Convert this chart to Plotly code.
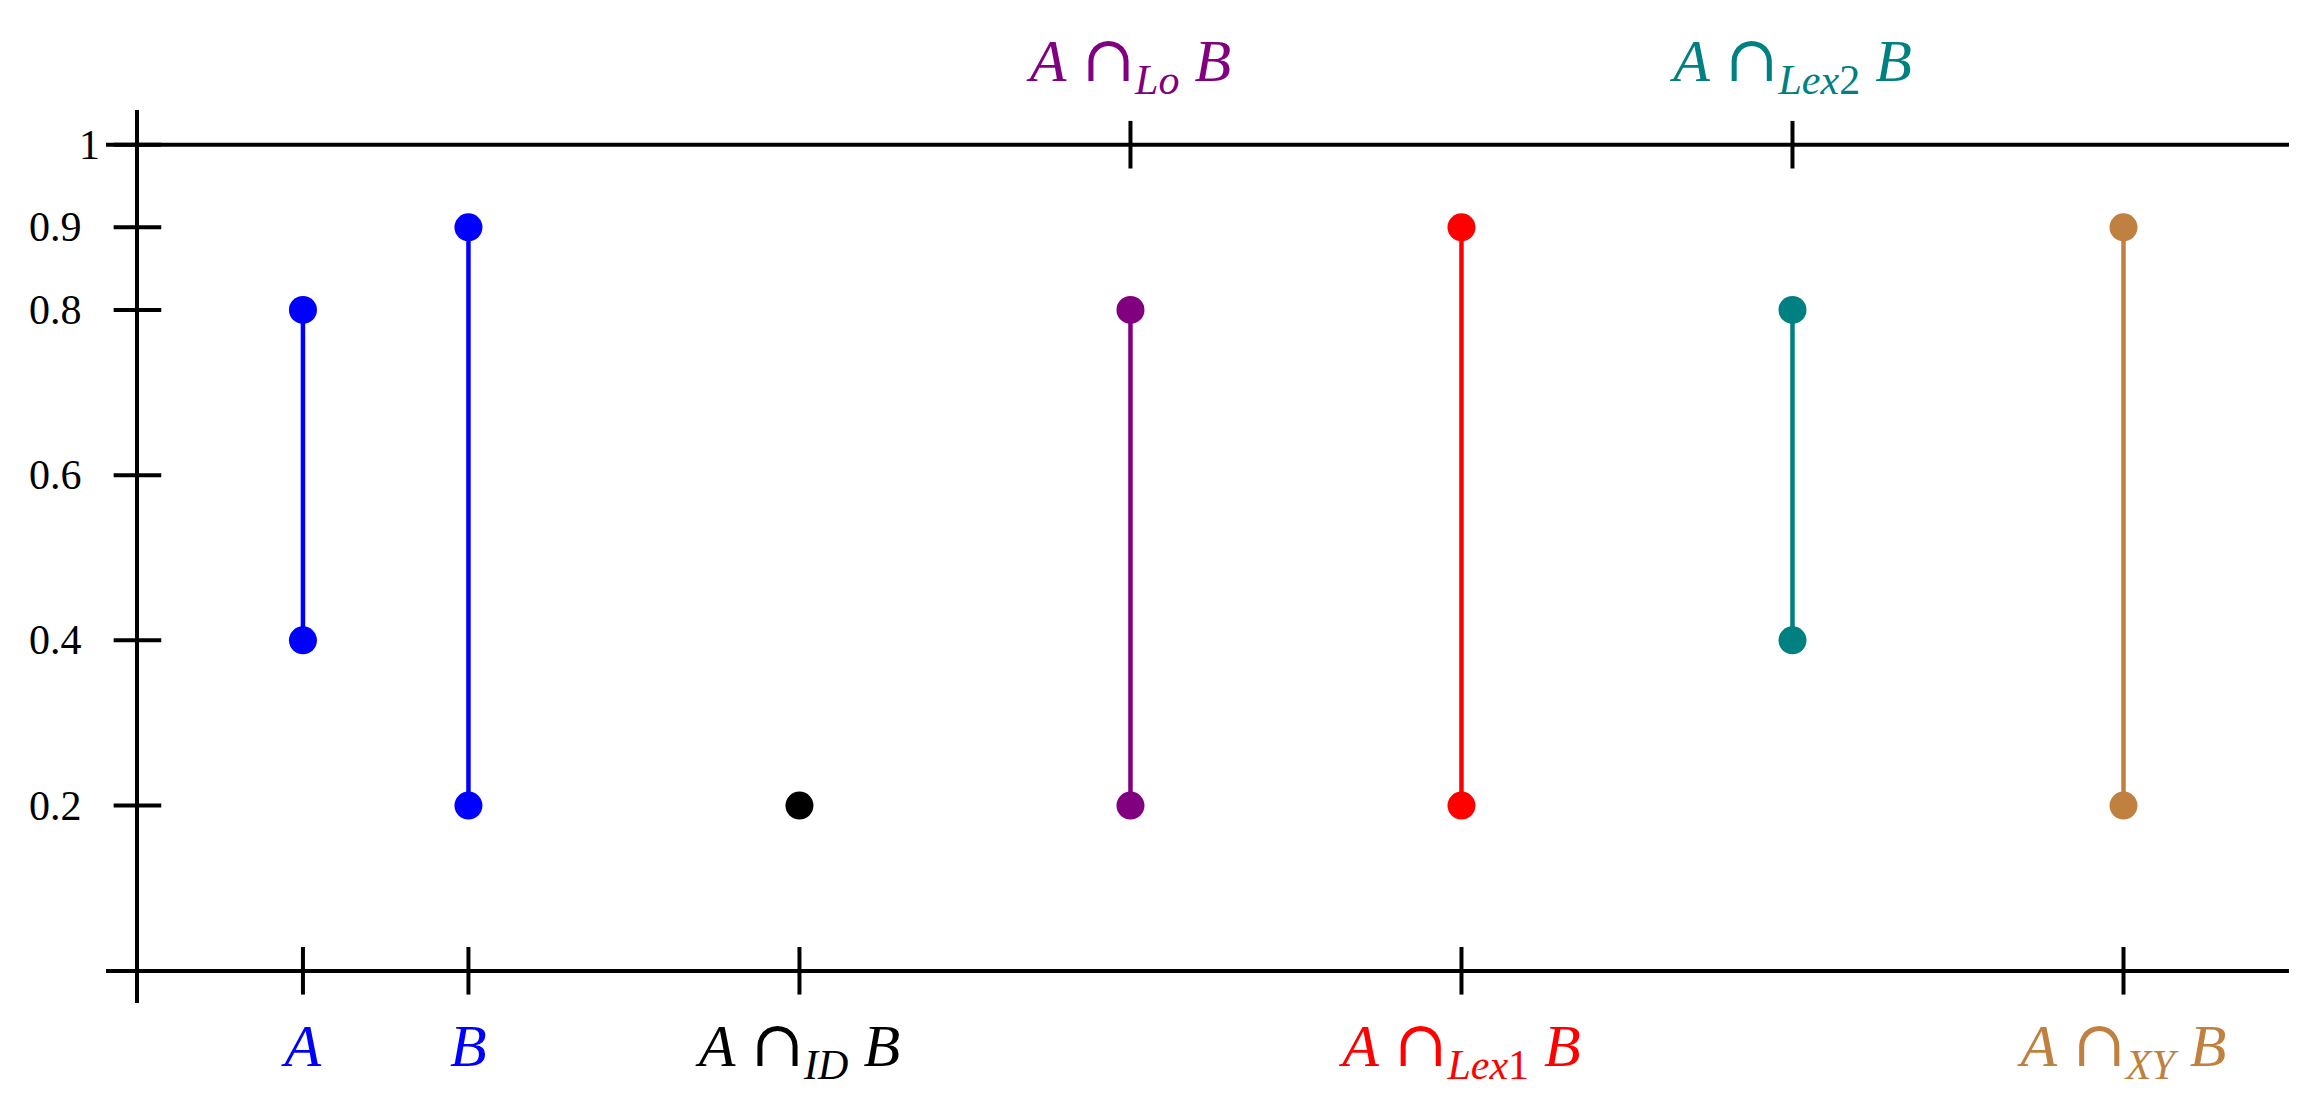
import plotly.graph_objects as go

# ---- data ----
names = ["A", "B", "ID", "Lo", "Lex1", "Lex2", "XY"]
x_pos = [1, 2, 4, 6, 8, 10, 12]
lower = [0.4, 0.2, 0.2, 0.2, 0.2, 0.4, 0.2]
upper = [0.8, 0.9, 0.2, 0.8, 0.9, 0.8, 0.9]
colors = ["#0000FF", "#0000FF", "#000000", "#800080", "#FF0000", "#008080", "#BF8040"]
CAP = "<span style='font-family:DejaVu Serif;font-size:64px'>∩</span>"
labels = [
    "<i>A</i>",
    "<i>B</i>",
    f"<i>A</i> {CAP}<sub><i>ID</i></sub> <i>B</i>",
    f"<i>A</i> {CAP}<sub><i>Lo</i></sub> <i>B</i>",
    f"<i>A</i> {CAP}<sub><i>Lex</i>1</sub> <i>B</i>",
    f"<i>A</i> {CAP}<sub><i>Lex</i>2</sub> <i>B</i>",
    f"<i>A</i> {CAP}<sub><i>XY</i></sub> <i>B</i>",
]
top_names = ["Lo", "Lex2"]
y_ticks = [0.2, 0.4, 0.6, 0.8, 0.9, 1.0]
y_tick_text = ["0.2", "0.4", "0.6", "0.8", "0.9", "1"]

FONT = "Liberation Serif"
fig = go.Figure()

for xp, lo, hi, c in zip(x_pos, lower, upper, colors):
    fig.add_trace(go.Scatter(
        x=[xp, xp] if hi != lo else [xp], y=[lo, hi] if hi != lo else [lo],
        mode="lines+markers",
        line=dict(color=c, width=4.5),
        marker=dict(color=c, size=28),
        showlegend=False, hoverinfo="skip",
    ))

bottom_idx = [i for i, n in enumerate(names) if n not in top_names]
top_idx = [i for i, n in enumerate(names) if n in top_names]

# tick marks crossing the axes
fig.add_trace(go.Scatter(
    x=[x_pos[i] for i in bottom_idx], y=[0] * len(bottom_idx), mode="markers",
    marker=dict(symbol="line-ns", size=34, line=dict(color="black", width=4)),
    showlegend=False, hoverinfo="skip", cliponaxis=False))
fig.add_trace(go.Scatter(
    x=[x_pos[i] for i in top_idx], y=[1] * len(top_idx), mode="markers",
    marker=dict(symbol="line-ns", size=34, line=dict(color="black", width=4)),
    showlegend=False, hoverinfo="skip", cliponaxis=False, xaxis="x2"))
fig.add_trace(go.Scatter(
    x=[0] * len(y_ticks), y=y_ticks, mode="markers",
    marker=dict(symbol="line-ew", size=34, line=dict(color="black", width=4)),
    showlegend=False, hoverinfo="skip", cliponaxis=False))

def colored(i):
    return f"<span style='color:{colors[i]}'>{labels[i]}</span>"

xr = [-0.19, 13.0]
fig.update_layout(
    width=2312, height=1110,
    margin=dict(l=98, r=31, t=102, b=115),
    paper_bgcolor="white", plot_bgcolor="white",
    xaxis=dict(range=xr, showgrid=False, zeroline=True, zerolinecolor="black",
               zerolinewidth=4, showline=False, ticks="",
               tickvals=[x_pos[i] for i in bottom_idx],
               ticktext=[colored(i) for i in bottom_idx],
               tickfont=dict(family=FONT, size=60, color="black"),
               ticklabelstandoff=2),
    xaxis2=dict(range=xr, overlaying="x", side="top", showgrid=False,
                zeroline=False, showline=False, ticks="",
                tickvals=[x_pos[i] for i in top_idx],
                ticktext=[colored(i) for i in top_idx],
                tickfont=dict(family=FONT, size=60, color="black"),
                ticklabelstandoff=16),
    yaxis=dict(range=[-0.039, 1.042], showgrid=False, zeroline=True,
               zerolinecolor="black", zerolinewidth=4, showline=False,
               ticks="", showticklabels=False),
    shapes=[dict(type="line", xref="paper", x0=0, x1=1, yref="y", y0=1, y1=1,
                 line=dict(color="black", width=4), layer="below")],
)

for v, t in zip(y_ticks, y_tick_text):
    fig.add_annotation(x=0, y=v, xref="x", yref="y", text=t, showarrow=False,
                       xanchor="right", yanchor="middle",
                       xshift=-35 if v == 1.0 else -53,
                       font=dict(family=FONT, size=42, color="black"))

fig.write_html("out.html")
